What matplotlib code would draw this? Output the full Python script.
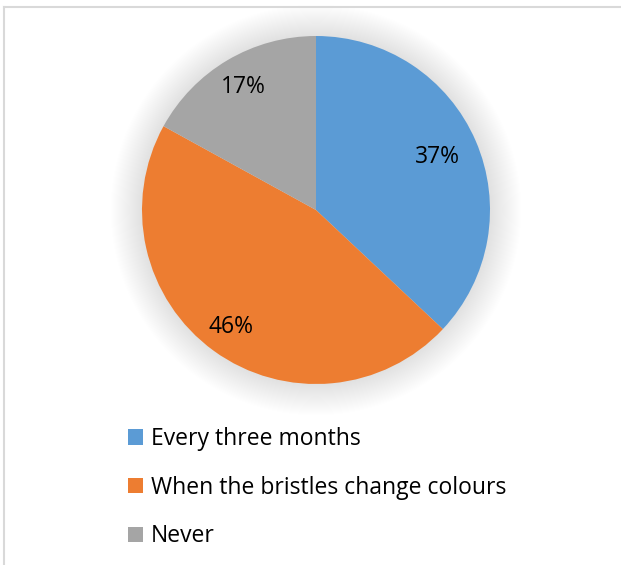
import matplotlib
matplotlib.use("Agg")
import matplotlib.pyplot as plt
from matplotlib.patches import Circle
from matplotlib.lines import Line2D

labels = ["Every three months", "When the bristles change colours", "Never"]
values = [37, 46, 17]
colors = ["#5B9BD5", "#ED7D31", "#A5A5A5"]

W, H = 621, 565
fig = plt.figure(figsize=(W / 100, H / 100), dpi=100)
fig.patch.set_facecolor("white")

# chart border (top and left visible)
fig.add_artist(Line2D([3.5 / W, 1.0], [1 - 6.5 / H, 1 - 6.5 / H], color="#D9D9D9", lw=1.5, transform=fig.transFigure))
fig.add_artist(Line2D([3.5 / W, 3.5 / W], [0, 1 - 6.5 / H], color="#D9D9D9", lw=1.5, transform=fig.transFigure))

cx, cy, r = 316, 210, 174
ax = fig.add_axes([(cx - r) / W, 1 - (cy + r) / H, 2 * r / W, 2 * r / H])
ax.set_xlim(-1, 1)
ax.set_ylim(-1, 1)
ax.set_aspect("equal")
ax.axis("off")

# soft glow/shadow
n = 30
for i in range(n):
    rr = 1.0 + 0.18 * (n - i) / n
    ax.add_patch(Circle((0, 0), rr, color="#000000", alpha=0.0045, lw=0, zorder=0, clip_on=False))

wedges, texts, autotexts = ax.pie(
    values, colors=colors, startangle=90, counterclock=False,
    autopct=lambda p: f"{p:.0f}%", pctdistance=0.76, radius=1.0,
    wedgeprops=dict(linewidth=0), textprops=dict(fontsize=16.5, family="Open Sans", color="black"),
)
for w in wedges:
    w.set_zorder(2)
label_dist = [0.76, 0.83, 0.82]
for t, d in zip(autotexts, label_dist):
    x, y = t.get_position()
    t.set_position((x * d / 0.76, y * d / 0.76))
    t.set_zorder(3)
ax.set_xlim(-1, 1)
ax.set_ylim(-1, 1)

leg = fig.legend(
    wedges, labels, loc="upper left",
    bbox_to_anchor=(128 / W, 1 - 427 / H),
    frameon=False, prop=dict(family="Open Sans", size=16.5),
    handlelength=0.66, handleheight=0.66, handletextpad=0.35,
    labelspacing=1.08, borderaxespad=0, borderpad=0,
)

fig.savefig("out.png", dpi=100, facecolor="white")
